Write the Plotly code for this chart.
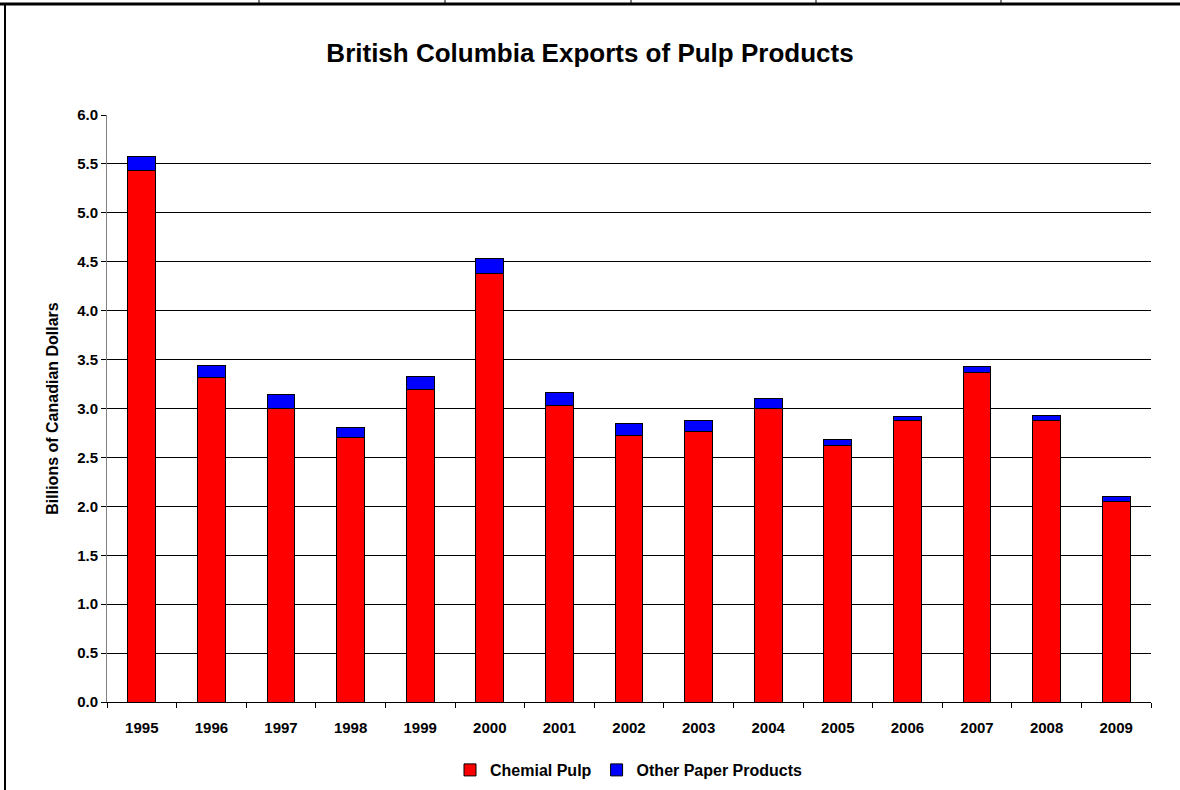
import plotly.graph_objects as go

W, H = 1180, 790
L, R, T, B = 107, 29, 115, 88

years = [str(y) for y in range(1995, 2010)]
chemical_pulp = [5.43, 3.32, 3.00, 2.70, 3.19, 4.38, 3.03, 2.72, 2.76, 3.00, 2.62, 2.88, 3.37, 2.88, 2.05]
other_paper = [0.15, 0.12, 0.14, 0.11, 0.14, 0.15, 0.13, 0.13, 0.115, 0.10, 0.065, 0.04, 0.06, 0.05, 0.05]
y_ticks = [i * 0.5 for i in range(13)]

FONT = "Arial, Liberation Sans, sans-serif"


def px_x(p):
    return (p - L) / (W - L - R)


def px_y(p):
    return 1 - (p - T) / (H - T - B)


fig = go.Figure()
fig.add_trace(go.Bar(x=years, y=chemical_pulp, name="<b>Chemial Pulp</b>",
                     marker=dict(color="#ff0000", line=dict(color="black", width=1))))
fig.add_trace(go.Bar(x=years, y=other_paper, name="<b>Other Paper Products</b>",
                     marker=dict(color="#0000ff", line=dict(color="black", width=1))))

# spreadsheet cell borders above the chart and the chart frame
shapes = [
    dict(type="line", xref="paper", yref="paper", x0=px_x(0), x1=px_x(W), y0=px_y(4), y1=px_y(4),
         line=dict(color="black", width=3)),
    dict(type="line", xref="paper", yref="paper", x0=px_x(5), x1=px_x(5), y0=px_y(4), y1=px_y(H + 5),
         line=dict(color="black", width=2)),
]
for xv in [259, 445, 631, 816, 1001]:
    shapes.append(dict(type="line", xref="paper", yref="paper", x0=px_x(xv), x1=px_x(xv),
                       y0=px_y(0), y1=px_y(4), line=dict(color="black", width=1)))

fig.update_layout(
    width=W, height=H,
    margin=dict(l=L, r=R, t=T, b=B, autoexpand=False),
    barmode="stack",
    bargap=0.6,
    paper_bgcolor="white",
    plot_bgcolor="white",
    font=dict(family=FONT, size=15, color="black"),
    title=dict(text="<b>British Columbia Exports of Pulp Products</b>", x=0.5, xanchor="center",
               y=1 - 53 / H, yanchor="middle", font=dict(size=26, family=FONT)),
    legend=dict(orientation="h", x=0.5, xanchor="center", yref="container", y=1 - 770 / H,
                yanchor="middle", font=dict(size=16, family=FONT), itemwidth=30,
                traceorder="normal"),
    shapes=shapes,
)
fig.update_xaxes(
    type="category", tickson="boundaries", ticks="outside", ticklen=5, tickcolor="black",
    showline=True, linecolor="black", linewidth=1, showgrid=False, automargin=False,
    tickfont=dict(size=15, family=FONT), ticklabelstandoff=12,
    tickprefix="<b>", ticksuffix="</b>",
)
fig.update_yaxes(
    range=[0, 6], tickvals=y_ticks, ticktext=[f"<b>{v:.1f}</b>" for v in y_ticks],
    ticks="outside", ticklen=5, tickcolor="black", automargin=False,
    showline=True, linecolor="#808080", linewidth=1,
    showgrid=True, gridcolor="black", gridwidth=1, zeroline=False,
    tickfont=dict(size=15, family=FONT),
    title=dict(text="<b>Billions of Canadian Dollars</b>", font=dict(size=16, family=FONT), standoff=14),
)

fig.write_html("out.html", config={"displayModeBar": False},
               post_script="document.body.style.margin='0';")
